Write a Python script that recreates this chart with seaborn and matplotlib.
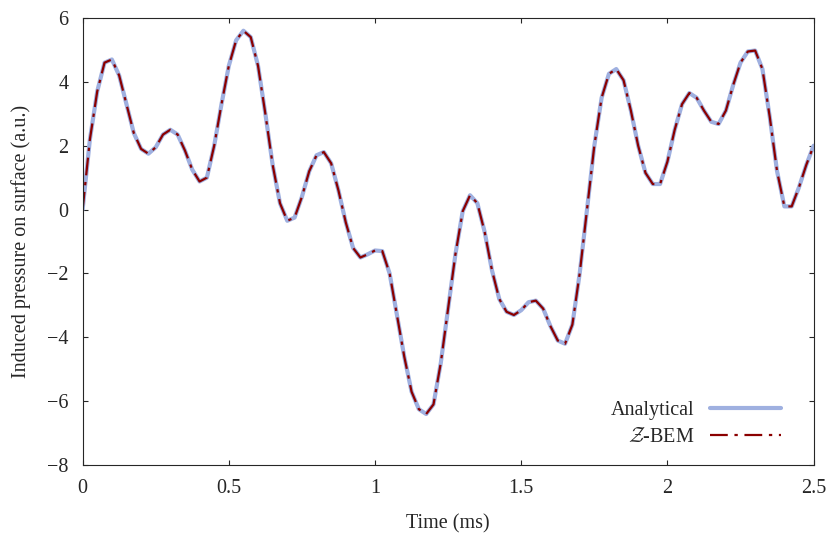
import numpy as np
import pandas as pd
import seaborn as sns
import matplotlib.pyplot as plt

# time step 0.025 ms
time_ms = np.round(np.arange(0, 2.5001, 0.025), 3)
pressure = [
    0.0, 2.2, 3.7, 4.6, 4.7, 4.2, 3.3, 2.4, 1.9, 1.75,
    1.95, 2.35, 2.5, 2.35, 1.85, 1.25, 0.88, 1.0, 2.0, 3.3,
    4.5, 5.3, 5.6, 5.4, 4.5, 3.0, 1.4, 0.2, -0.35, -0.25,
    0.4, 1.2, 1.7, 1.8, 1.45, 0.6, -0.4, -1.2, -1.5, -1.4,
    -1.28, -1.3, -2.0, -3.3, -4.6, -5.7, -6.25, -6.4, -6.1, -4.8,
    -3.1, -1.4, -0.05, 0.45, 0.2, -0.7, -1.9, -2.8, -3.2, -3.3,
    -3.15, -2.9, -2.85, -3.1, -3.65, -4.1, -4.2, -3.6, -2.0, 0.0,
    2.0, 3.5, 4.25, 4.4, 4.05, 3.1, 2.0, 1.15, 0.8, 0.8,
    1.5, 2.5, 3.3, 3.65, 3.5, 3.1, 2.75, 2.68, 3.1, 3.9,
    4.6, 4.95, 4.98, 4.4, 2.9, 1.2, 0.1, 0.1, 0.7, 1.4,
    2.0,
]

df = pd.DataFrame({"t": time_ms, "p": pressure})

sns.set_style("ticks")
plt.rcParams["font.family"] = ["Liberation Serif", "DejaVu Serif"]
plt.rcParams["mathtext.fontset"] = "cm"

fig, ax = plt.subplots(figsize=(8.26, 5.44), dpi=100)
sns.lineplot(data=df, x="t", y="p", ax=ax, color="#9fb0e0", linewidth=3, label="Analytical")
sns.lineplot(data=df, x="t", y="p", ax=ax, color="#8b0000", linewidth=1.6,
             linestyle=(0, (8, 3, 1.5, 3)), label=r"$\mathcal{Z}$-BEM")

ax.set_xlim(0, 2.5)
ax.set_ylim(-8, 6)
ax.set_xticks([0, 0.5, 1, 1.5, 2, 2.5])
ax.set_xticklabels(["0", "0.5", "1", "1.5", "2", "2.5"])
ax.set_yticks(range(-8, 7, 2))
ax.set_yticklabels([str(v).replace("-", "\u2212") for v in range(-8, 7, 2)])
ax.tick_params(direction="in", top=True, right=True, labelsize=14.5, pad=10)
ax.set_xlabel("Time (ms)", fontsize=14.5, labelpad=12)
ax.set_ylabel("Induced pressure on surface (a.u.)", fontsize=14.5, labelpad=12)
for s in ax.spines.values():
    s.set_visible(True)
    s.set_linewidth(0.8)

ax.legend(loc="lower right", bbox_to_anchor=(0.98, 0.0), frameon=False,
          markerfirst=False, fontsize=14.5, handlelength=3.5, labelspacing=0.4)

fig.subplots_adjust(left=0.1, right=0.985, bottom=0.145, top=0.967)
fig.savefig("out.png", dpi=100)
